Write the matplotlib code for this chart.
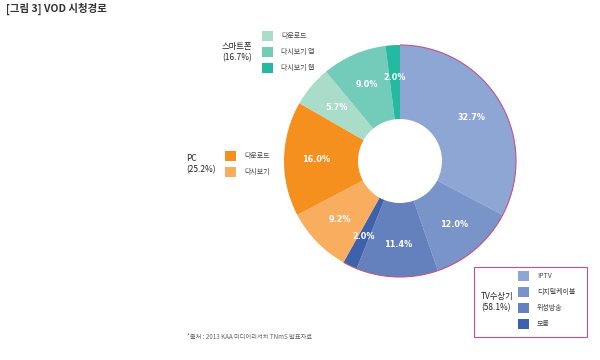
import numpy as np
import matplotlib
matplotlib.use("Agg")
import matplotlib.pyplot as plt
from matplotlib.patches import Rectangle, Arc

plt.rcParams['font.family'] = ['Noto Sans CJK KR', 'DejaVu Sans']

# ---- data (clockwise from 12 o'clock) ----
labels = ['IPTV', '디지털케이블', '위성방송', '모름',
          '다시보기', '다운로드',
          '다운로드', '다시보기 앱', '다시보기 웹']
values = [32.7, 12.0, 11.4, 2.0, 9.2, 16.0, 5.7, 9.0, 2.0]
colors = ['#8ea6d4', '#7894c9', '#6480bd', '#3d62ab',
          '#f9ad5f', '#f5901f',
          '#a9dcc9', '#73cbb9', '#25b9a0']

groups = ['스마트폰\n(16.7%)', 'PC\n(25.2%)', 'TV수상기\n(58.1%)']
group_items = [[6, 7, 8], [5, 4], [0, 1, 2, 3]]   # indices into labels/colors
tv_share = 58.1

W, H = 600, 360
fig = plt.figure(figsize=(6, 3.6), dpi=100)
ax = fig.add_axes([0, 0, 1, 1])

def Y(y):  # pixel row -> data y
    return H - y

cx, cy, R = 400, Y(161), 116
wedges, _ = ax.pie(values, colors=colors, startangle=90, counterclock=False,
                   center=(cx, cy), radius=R, frame=True,
                   wedgeprops=dict(width=74, linewidth=0))
ax.set_xlim(0, W)
ax.set_ylim(0, H)
ax.set_aspect('equal')
ax.axis('off')

# percentage labels
for w, v in zip(wedges, values):
    ang = np.deg2rad((w.theta1 + w.theta2) / 2)
    r = R * 0.72
    ax.text(cx + r * np.cos(ang), cy + r * np.sin(ang), f'{v:.1f}%',
            ha='center', va='center', color='white', fontsize=6.5,
            fontweight='bold', family=['DejaVu Sans'], fontstretch='condensed')

# magenta outline on TV part
ax.add_patch(Arc((cx, cy), 2 * R, 2 * R, theta1=90 - tv_share * 3.6, theta2=90,
                 color='#c2508c', lw=0.8))

# title and source
ax.text(6, Y(9), '[그림 3] VOD 시청경로', fontsize=7.5, color='#333333',
        ha='left', va='center', fontweight='bold')
ax.text(187, Y(337), '*출처 : 2013 KAA 미디어리서치 TNmS 발표자료', fontsize=4.5,
        color='#666666', ha='left', va='center')

# legends
def legend_block(name, items, gx, gy, sx, sy0, step):
    ax.text(gx, Y(gy), name, fontsize=6, color='#222222', ha='left', va='center',
            linespacing=1.3)
    for k, i in enumerate(items):
        yy = sy0 + k * step
        ax.add_patch(Rectangle((sx, Y(yy + 5)), 11, 10, color=colors[i], lw=0))
        ax.text(sx + 19, Y(yy), labels[i], fontsize=5, color='#444444',
                ha='left', va='center')

legend_block(groups[0], group_items[0], 222, 52, 262, 36, 16)
legend_block(groups[1], group_items[1], 186, 164, 225, 156, 16)
legend_block(groups[2], group_items[2], 481, 302, 518, 276, 16)

ax.add_patch(Rectangle((474, Y(337)), 113, 70, fill=False, edgecolor='#c2508c', lw=0.8))

fig.savefig('out.png', dpi=100, facecolor='white')
